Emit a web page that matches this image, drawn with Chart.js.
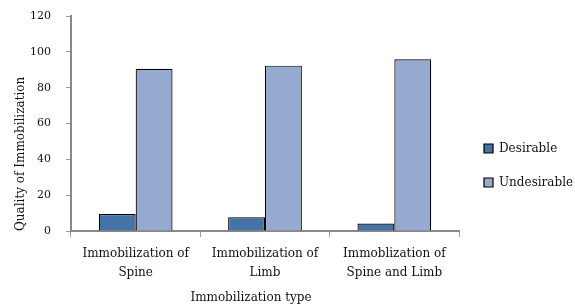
<!DOCTYPE html>
<html><head><meta charset="utf-8">
<script src="https://cdn.jsdelivr.net/npm/chart.js@4"></script>
<style>html,body{margin:0;padding:0;background:#fff}#w{width:575px;height:305px}</style>
</head><body><div id="w"><canvas id="c"></canvas></div>
<script>
const categories = [["Immobilization of","Spine"],["Immobilization of","Limb"],["Immoblization of","Spine and Limb"]];
const desirable = [9.5, 7.7, 4.2];
const undesirable = [90.5, 92.3, 95.8];
const yTicks = [0,20,40,60,80,100,120];
const FONT = "DejaVu Serif";
const legendTweak = {
  id:'legendTweak',
  beforeInit(chart){
    const lg = chart.legend; if(!lg) return;
    const orig = lg.fit;
    lg.fit = function(){ orig.call(this); this.width = 116; };
  },
  afterLayout(chart){
    const lg = chart.legend;
    if(lg){ lg.left += 3; lg.right += 3; lg.top += 5; lg.bottom += 5; }
    const xs = chart.scales.x;
    if(xs && !xs._shifted){
      const o = xs.drawTitle;
      xs.drawTitle = function(){ const c=this.ctx; c.save(); c.translate(-14,0); o.apply(this, arguments); c.restore(); };
      xs._shifted = true;
    }
  }
};
new Chart(document.getElementById('c'), {
  type: 'bar',
  data: { labels: categories, datasets: [
    {label:'Desirable', data: desirable, backgroundColor:'#4572a7', borderColor:'#000', borderWidth:1.2, categoryPercentage:0.57, barPercentage:1},
    {label:'Undesirable', data: undesirable, backgroundColor:'#95a9d1', borderColor:'#000', borderWidth:1.2, categoryPercentage:0.57, barPercentage:1}
  ]},
  plugins:[legendTweak],
  options: {
    responsive:true, maintainAspectRatio:false, animation:false,
    layout:{padding:{left:6,top:16,right:0,bottom:0}},
    plugins:{
      tooltip:{enabled:false},
      legend:{position:'right', align:'center',
        labels:{font:{family:FONT,size:12}, color:'#111', boxWidth:9, boxHeight:9, padding:22}}
    },
    scales:{
      x:{grid:{display:true, drawOnChartArea:false, color:'#999', tickLength:6},
         border:{color:'#888', width:2},
         afterFit:(s)=>{s.height=74;},
         ticks:{font:{family:FONT,size:12, lineHeight:1.55}, color:'#111', maxRotation:0, padding:8},
         title:{display:true, text:'Immobilization type', font:{family:FONT,size:12}, color:'#111', padding:{top:6,bottom:0}}},
      y:{min:0,max:120, afterBuildTicks:(s)=>{s.ticks=yTicks.map(v=>({value:v}));},
         afterFit:(s)=>{s.width=65; s.paddingTop=0; s.paddingBottom=0;},
         grid:{display:true, drawOnChartArea:false, color:'#999', tickLength:5},
         border:{color:'#888', width:2},
         ticks:{font:{family:FONT,size:11}, color:'#111', padding:15},
         title:{display:true, align:'start', text:'Quality of Immobilization', font:{family:FONT,size:12}, color:'#111', padding:{top:8,bottom:4}}}
    }
  }
});
</script></body></html>
